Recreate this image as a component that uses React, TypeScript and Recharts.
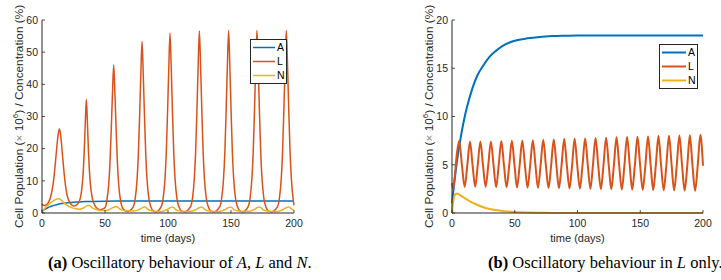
import React from 'react';
import { LineChart, Line, XAxis, YAxis, Legend } from 'recharts';

// ---------- colours ----------
const C_A = '#0072BD';
const C_L = '#D95319';
const C_N = '#EDB120';
const AXIS = '#262626';
const SANS = '"Liberation Sans", Arial, Helvetica, sans-serif';
const SERIF = '"Liberation Serif", "Times New Roman", Times, serif';

// ---------- ticks ----------
const xTicks = [0, 50, 100, 150, 200];
const aYTicks = [0, 10, 20, 30, 40, 50, 60];
const bYTicks = [0, 5, 10, 15, 20];

// ---------- panel (a) ----------
const aA_t = [0, 2, 4, 6, 8, 10, 13, 16, 20, 25, 30, 35, 40, 50, 60, 80, 100, 150, 200];
const aA_v = [0.6, 1.1, 1.5, 1.9, 2.2, 2.45, 2.75, 2.95, 3.15, 3.35, 3.45, 3.55, 3.6, 3.68, 3.72, 3.74, 3.75, 3.75, 3.75];

const aL_t = [
  0, 1, 2, 3, 5, 7, 9, 10, 11, 12, 13, 13.8, 14.6, 15.6, 16.6, 17.6, 18.6, 20, 22, 24, 25.5,
  27, 29, 30.5, 31.5, 32.5, 33.5, 34.4, 35.2, 36.0, 36.9, 37.9, 38.9, 40, 42, 44, 46,
  49.9, 51.4, 52.9, 53.9, 54.9, 55.9, 56.9, 57.9, 58.9, 59.9, 60.9, 62.4, 63.9, 66, 68.2,
  72.4, 73.9, 75.4, 76.4, 77.4, 78.4, 79.4, 80.4, 81.4, 82.4, 83.4, 84.9, 86.4, 88.5, 90.5,
  94.6, 96.1, 97.6, 98.6, 99.6, 100.6, 101.6, 102.6, 103.6, 104.6, 105.6, 107.1, 108.6, 110.8, 113.2,
  117.9, 119.4, 120.9, 121.9, 122.9, 123.9, 124.9, 125.9, 126.9, 127.9, 128.9, 130.4, 131.9, 134.1, 136.5,
  141.1, 142.6, 144.1, 145.1, 146.1, 147.1, 148.1, 149.1, 150.1, 151.1, 152.1, 153.6, 155.1, 157.2, 159.4,
  163.6, 165.1, 166.6, 167.6, 168.6, 169.6, 170.6, 171.6, 172.6, 173.6, 174.6, 176.1, 177.6, 179.9, 182.2,
  186.9, 188.4, 189.9, 190.9, 191.9, 192.9, 193.9, 194.9, 195.9, 196.9, 197.9, 199.4, 200,
];
const aL_v = [
  2.8, 2.4, 2.3, 2.4, 3.2, 5.2, 9.5, 13, 17.2, 21.5, 24.8, 26.1, 24.8, 21, 16.5, 12.2, 8.7, 5.4, 3.3, 2.4, 2.2,
  2.4, 3.2, 4.8, 7.2, 11.5, 19, 28.5, 35.4, 28.5, 19, 11.5, 7.2, 4.5, 2.3, 1.4, 1.0,
  1.6, 3.7, 8.7, 15.2, 25.3, 36.8, 46, 36.8, 25.3, 15.2, 8.7, 3.7, 1.6, 0.7, 0.5,
  1.9, 4.3, 10.1, 17.6, 29.3, 42.6, 53.3, 42.6, 29.3, 17.6, 10.1, 4.3, 1.9, 0.6, 0.4,
  2.0, 4.5, 10.6, 18.4, 30.7, 44.7, 55.9, 44.7, 30.7, 18.4, 10.6, 4.5, 2.0, 0.6, 0.4,
  2.0, 4.5, 10.8, 18.7, 31.1, 45.3, 56.6, 45.3, 31.1, 18.7, 10.8, 4.5, 2.0, 0.6, 0.4,
  2.0, 4.5, 10.8, 18.7, 31.2, 45.4, 56.7, 45.4, 31.2, 18.7, 10.8, 4.5, 2.0, 0.6, 0.4,
  2.0, 4.5, 10.8, 18.7, 31.2, 45.4, 56.7, 45.4, 31.2, 18.7, 10.8, 4.5, 2.0, 0.6, 0.4,
  2.0, 4.5, 10.8, 18.7, 31.2, 45.4, 56.7, 45.4, 31.2, 18.7, 10.8, 4.0, 2.4,
];

const aN_t = [
  0, 3, 6, 9, 12, 13.5, 15, 17, 19, 21, 24, 27, 30, 33, 35.5, 37, 38.5, 40, 43, 47,
  51, 54, 57, 58.5, 60, 61.5, 64, 68, 72, 76, 79.5, 81, 82.5, 84, 87, 91,
  95, 99, 102, 103.5, 105, 106.5, 110, 114, 118, 122, 125, 126.5, 128, 129.5, 133, 137,
  141, 145, 148, 149.5, 151, 152.5, 156, 160, 164, 168, 171, 172.5, 174, 175.5, 179, 183,
  187, 191, 194, 195.5, 197, 198.5, 200,
];
const aN_v = [
  0.5, 1.8, 2.9, 3.8, 4.35, 4.45, 4.1, 3.3, 2.6, 2.1, 1.6, 1.3, 1.2, 1.6, 2.2, 2.4, 2.1, 1.6, 1.1, 0.8,
  0.8, 1.2, 1.8, 2.0, 1.8, 1.3, 0.9, 0.65, 0.6, 0.9, 1.6, 1.9, 1.7, 1.1, 0.7, 0.5,
  0.5, 1.0, 1.7, 1.9, 1.6, 1.0, 0.6, 0.5, 0.5, 1.0, 1.7, 1.9, 1.6, 1.0, 0.6, 0.5,
  0.5, 1.0, 1.7, 1.9, 1.6, 1.0, 0.6, 0.5, 0.5, 1.0, 1.7, 1.9, 1.6, 1.0, 0.6, 0.5,
  0.5, 1.0, 1.7, 1.9, 1.6, 1.1, 0.8,
];

// ---------- panel (b) ----------
const bA_t = [0, 1, 2, 3, 4, 5, 6, 8, 10, 12, 15, 20, 25, 30, 35, 40, 50, 60, 70, 80, 90, 100, 150, 200];
const bA_v = [1.0, 2.2, 3.3, 4.4, 5.4, 6.3, 7.1, 8.6, 9.9, 11.0, 12.4, 14.2, 15.3, 16.2, 16.8, 17.3, 17.85, 18.1, 18.25, 18.33, 18.37, 18.4, 18.4, 18.4];

const bL_t = [
  0, 0.8, 2.2, 3.6, 5.7, 7.9,
  10.1, 12.2, 14.3, 16.4, 18.5, 20.5, 22.6, 24.7, 26.8, 28.9, 31.0, 33.1,
  35.2, 37.2, 39.3, 41.4, 43.5, 45.6, 47.7, 49.8, 51.8, 53.9, 56.0, 58.1,
  60.2, 62.3, 64.4, 66.5, 68.5, 70.6, 72.7, 74.8, 76.9, 79.0, 81.1, 83.2,
  85.2, 87.3, 89.4, 91.5, 93.6, 95.7, 97.7, 99.8, 101.9, 104.0, 106.1, 108.2,
  110.3, 112.3, 114.4, 116.5, 118.6, 120.7, 122.8, 124.9, 126.9, 129.0, 131.1, 133.2,
  135.3, 137.4, 139.5, 141.6, 143.6, 145.7, 147.8, 149.9, 152.0, 154.1, 156.2, 158.3,
  160.3, 162.4, 164.5, 166.6, 168.7, 170.8, 172.9, 175.0, 177.0, 179.1, 181.2, 183.3,
  185.4, 187.5, 189.5, 191.6, 193.7, 195.8, 197.9, 200,
];
const bL_v = [
  3.1, 2.5, 3.8, 5.8, 7.45, 5.0,
  2.70, 4.95, 7.40, 4.95, 2.72, 4.95, 7.40, 4.95, 2.70, 4.95, 7.42, 4.95,
  2.68, 4.95, 7.45, 4.95, 2.66, 4.95, 7.48, 4.95, 2.64, 4.95, 7.52, 4.95,
  2.62, 4.95, 7.55, 4.95, 2.60, 4.95, 7.58, 4.95, 2.58, 4.95, 7.62, 4.95,
  2.56, 4.95, 7.66, 4.95, 2.54, 4.95, 7.70, 4.95, 2.52, 4.95, 7.73, 4.95,
  2.50, 4.95, 7.77, 4.95, 2.48, 4.95, 7.80, 4.95, 2.46, 4.95, 7.84, 4.95,
  2.44, 4.95, 7.87, 4.95, 2.42, 4.95, 7.90, 4.95, 2.40, 4.95, 7.94, 4.95,
  2.38, 4.95, 7.97, 4.95, 2.36, 4.95, 8.00, 4.95, 2.34, 4.95, 8.03, 4.95,
  2.32, 4.95, 8.06, 4.95, 2.30, 4.95, 8.10, 4.9,
];

const bN_t = [0, 0.5, 1, 1.5, 2, 3, 4, 5, 6, 8, 10, 13, 16, 20, 25, 30, 35, 40, 45, 50, 60, 70, 80, 100, 150, 200];
const bN_v = [0, 0.7, 1.2, 1.55, 1.8, 1.98, 2.02, 1.98, 1.9, 1.72, 1.55, 1.3, 1.08, 0.85, 0.6, 0.42, 0.3, 0.21, 0.15, 0.1, 0.05, 0.025, 0.012, 0.003, 0, 0];

const zip = (t: number[], v: number[]) => t.map((x, i) => ({ t: x, v: v[i] }));

// ---------- axis ticks (drawn inward, MATLAB style) ----------
const XTick = (props: any) => {
  const { x, y, payload } = props;
  return (
    <g>
      <line x1={x} y1={y} x2={x} y2={y - 3} stroke={AXIS} strokeWidth={0.8} />
      <text x={x} y={y + 14} textAnchor="middle" fontSize={10.5} fill={AXIS} fontFamily={SANS}>
        {payload.value}
      </text>
    </g>
  );
};
const YTick = (props: any) => {
  const { x, y, payload } = props;
  return (
    <g>
      <line x1={x} y1={y} x2={x + 3} y2={y} stroke={AXIS} strokeWidth={0.8} />
      <text x={x - 4} y={y + 3.8} textAnchor="end" fontSize={10.5} fill={AXIS} fontFamily={SANS}>
        {payload.value}
      </text>
    </g>
  );
};

const makeLegend = (w: number, h: number, lineW: number) => (props: any) => {
  const payload = props.payload || [];
  return (
    <svg width={w} height={h} style={{ display: 'block' }}>
      <rect x={0.5} y={0.5} width={w - 1} height={h - 1} fill="#fff" stroke={AXIS} strokeWidth={1} />
      {payload.map((p: any, i: number) => (
        <g key={i}>
          <line x1={3} x2={w - 12} y1={8.5 + i * 14} y2={8.5 + i * 14} stroke={p.color} strokeWidth={lineW} />
          <text x={w - 10} y={12.3 + i * 14} fontSize={10.5} fontFamily={SANS} fill="#000">
            {p.value}
          </text>
        </g>
      ))}
    </svg>
  );
};

const YLabel = ({ x, y }: { x: number; y: number }) => (
  <text
    transform={`translate(${x},${y}) rotate(-90)`}
    textAnchor="middle"
    fontSize={11.8}
    fill={AXIS}
    fontFamily={SANS}
  >
    Cell Population (<tspan fill="#888">×</tspan> 10<tspan dy={-4.5} fontSize={8}>6</tspan>
    <tspan dy={4.5}>) / Concentration (%)</tspan>
  </text>
);

export default function App() {
  const aA = zip(aA_t, aA_v);
  const aL = zip(aL_t, aL_v);
  const aN = zip(aN_t, aN_v);
  const bA = zip(bA_t, bA_v);
  const bL = zip(bL_t, bL_v);
  const bN = zip(bN_t, bN_v);

  return (
    <div style={{ position: 'absolute', left: 0, top: 0, width: 721, height: 280, background: '#fff' }}>
      {/* panel (a) */}
      <div style={{ position: 'absolute', left: 0, top: 0 }}>
        <LineChart width={360} height={240} margin={{ top: 20, right: 66, bottom: 0, left: 0 }}>
          <XAxis
            dataKey="t"
            type="number"
            domain={[0, 200]}
            ticks={xTicks}
            height={27}
            tick={XTick}
            tickLine={false}
            tickSize={0}
            tickMargin={0}
            stroke={AXIS}
          />
          <YAxis
            type="number"
            domain={[0, 60]}
            ticks={aYTicks}
            width={42}
            tick={YTick}
            tickLine={false}
            tickSize={0}
            tickMargin={0}
            stroke={AXIS}
          />
          <Legend
            layout="horizontal"
            verticalAlign="middle"
            align="center"
            wrapperStyle={{ left: 250, top: 39, width: 37, height: 45 }}
            content={makeLegend(37, 45, 1.5)}
          />
          <Line data={aA} dataKey="v" name="A" type="monotone" stroke={C_A} strokeWidth={1.5} dot={false} isAnimationActive={false} />
          <Line data={aL} dataKey="v" name="L" type="monotone" stroke={C_L} strokeWidth={1.5} dot={false} isAnimationActive={false} />
          <Line data={aN} dataKey="v" name="N" type="monotone" stroke={C_N} strokeWidth={1.5} dot={false} isAnimationActive={false} />
        </LineChart>
      </div>

      {/* panel (b) */}
      <div style={{ position: 'absolute', left: 360, top: 0 }}>
        <LineChart width={361} height={240} margin={{ top: 20, right: 18, bottom: 0, left: 0 }}>
          <XAxis
            dataKey="t"
            type="number"
            domain={[0, 200]}
            ticks={xTicks}
            height={27}
            tick={XTick}
            tickLine={false}
            tickSize={0}
            tickMargin={0}
            stroke={AXIS}
          />
          <YAxis
            type="number"
            domain={[0, 20]}
            ticks={bYTicks}
            width={92}
            tick={YTick}
            tickLine={false}
            tickSize={0}
            tickMargin={0}
            stroke={AXIS}
          />
          <Legend
            layout="horizontal"
            verticalAlign="middle"
            align="center"
            wrapperStyle={{ left: 299, top: 44, width: 39, height: 45 }}
            content={makeLegend(39, 45, 2)}
          />
          <Line data={bA} dataKey="v" name="A" type="monotone" stroke={C_A} strokeWidth={2} dot={false} isAnimationActive={false} />
          <Line data={bL} dataKey="v" name="L" type="monotone" stroke={C_L} strokeWidth={2} dot={false} isAnimationActive={false} />
          <Line data={bN} dataKey="v" name="N" type="monotone" stroke={C_N} strokeWidth={2} dot={false} isAnimationActive={false} />
        </LineChart>
      </div>

      {/* axis titles */}
      <svg width={721} height={280} style={{ position: 'absolute', left: 0, top: 0, pointerEvents: 'none' }}>
        <YLabel x={22.5} y={116.5} />
        <YLabel x={432.5} y={116.5} />
        <text x={168} y={242} textAnchor="middle" fontSize={11} fill={AXIS} fontFamily={SANS}>time (days)</text>
        <text x={577.5} y={242} textAnchor="middle" fontSize={11} fill={AXIS} fontFamily={SANS}>time (days)</text>
      </svg>

      {/* captions */}
      <div style={{ position: 'absolute', left: 48, top: 253, fontFamily: SERIF, fontSize: 16.5, color: '#000', whiteSpace: 'nowrap' }}>
        <b>(a)</b> Oscillatory behaviour of <i>A</i>, <i>L</i> and <i>N</i>.
      </div>
      <div style={{ position: 'absolute', left: 488, top: 253, fontFamily: SERIF, fontSize: 16.5, color: '#000', whiteSpace: 'nowrap' }}>
        <b>(b)</b> Oscillatory behaviour in <i>L</i> only.
      </div>
    </div>
  );
}
